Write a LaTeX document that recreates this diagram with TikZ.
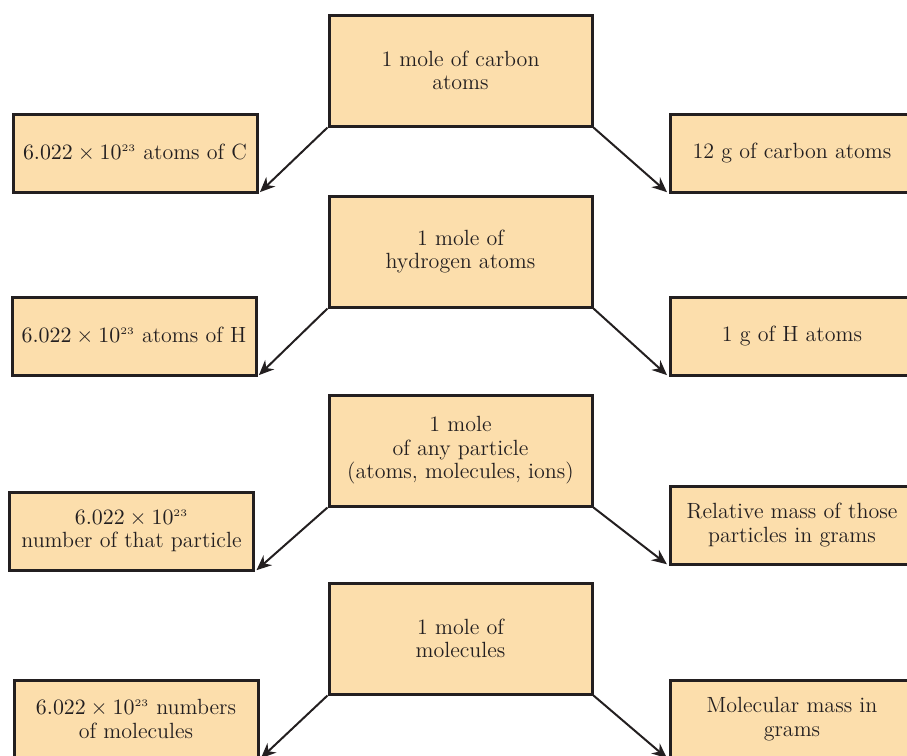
\documentclass[tikz,border=0pt]{standalone}
\usepackage{amsmath}
\usepackage{tikz}
\usetikzlibrary{arrows.meta}

\definecolor{molefill}{RGB}{252,222,172}
\definecolor{boxline}{RGB}{35,31,32}
\newcommand{\avog}{$6.022\times10^{\scriptscriptstyle 23}$}

\begin{document}
\begin{tikzpicture}[x=0.5pt,y=-0.5pt,>={Stealth[length=7.5pt,width=6.5pt]},shorten >=1pt,
  line width=1pt,
  main node/.style={rectangle,fill=molefill,draw=boxline,line width=1.5pt,text=boxline,
    minimum width=131.5pt,minimum height=55.5pt,align=center,inner sep=2pt,
    font=\fontsize{11}{11.75}\selectfont},
  side node/.style={main node,minimum width=122pt,minimum height=39pt},
  every edge/.style={draw=boxline,->}]

  \useasboundingbox (0,0) rectangle (907,756);

  % centre column
  \node[main node] (c1) at (460.5,70.5) {1 mole of carbon\\atoms};
  \node[main node] (c2) at (460.5,251.5) {1 mole of\\hydrogen atoms};
  \node[main node] (c3) at (460.5,450.5) {1 mole\\of any particle\\(atoms, molecules, ions)};
  \node[main node] (c4) at (460.5,638.5) {1 mole of\\molecules};

  % left column
  \node[side node] (l1) at (135,153) {\avog{} atoms of C};
  \node[side node] (l2) at (134,336) {\avog{} atoms of H};
  \node[side node] (l3) at (131.5,531) {\avog\\number of that particle};
  \node[side node] (l4) at (136,719) {\avog{} numbers\\of molecules};

  % right column
  \node[side node] (r1) at (792,153) {12 g of carbon atoms};
  \node[side node] (r2) at (792,336) {1 g of H atoms};
  \node[side node] (r3) at (792,525) {Relative mass of those\\particles in grams};
  \node[side node] (r4) at (792,719) {Molecular mass in\\grams};

  \path
    (c1.south west) edge (l1.south east)
    (c1.south east) edge (r1.south west)
    (c2.south west) edge (l2.south east)
    (c2.south east) edge (r2.south west)
    (c3.south west) edge (l3.south east)
    (c3.south east) edge (r3.south west)
    (c4.south west) edge (l4.south east)
    (c4.south east) edge (r4.south west)
    ;

\end{tikzpicture}
\end{document}
